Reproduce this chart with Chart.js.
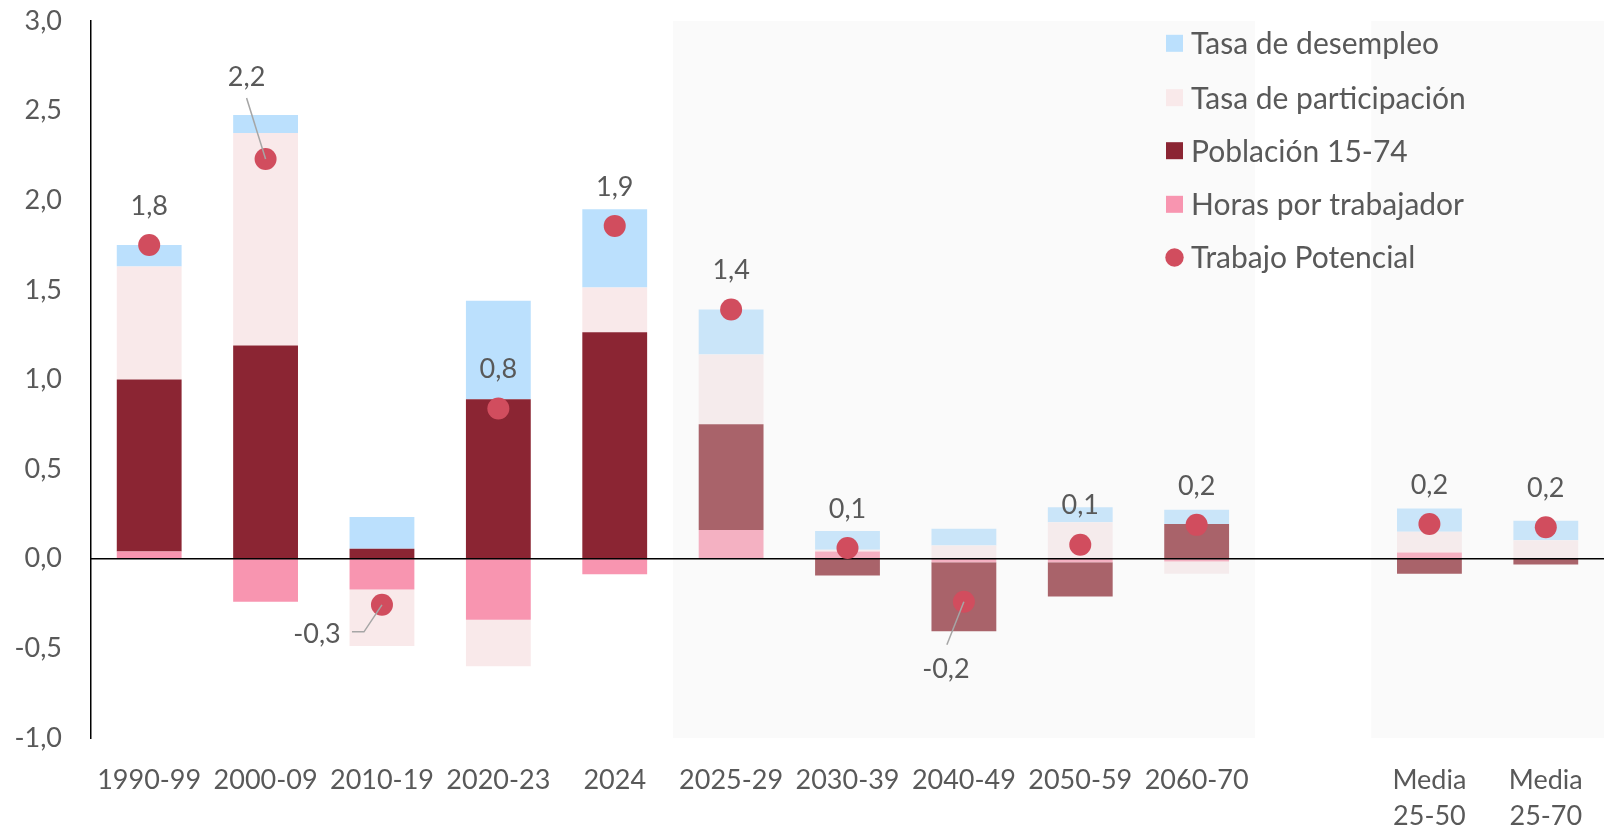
<!DOCTYPE html>
<html><head><meta charset="utf-8">
<script src="https://cdn.jsdelivr.net/npm/chart.js@4.4.0/dist/chart.umd.min.js"></script>
<style>html,body{margin:0;padding:0;background:#fff;} #wrap{width:1604px;height:828px;}</style>
</head><body><div id="wrap"><canvas id="c" width="1604" height="828"></canvas></div>
<script>
// ---------- DATA ----------
const categories = [['1990-99'],['2000-09'],['2010-19'],['2020-23'],['2024'],['2025-29'],['2030-39'],['2040-49'],['2050-59'],['2060-70'],[''],['Media','25-50'],['Media','25-70']];
const seriesNames = ['Tasa de desempleo','Tasa de participación','Población 15-74','Horas por trabajador','Trabajo Potencial'];
const tasaDesempleo     = [0.12, 0.10, 0.177, 0.55, 0.437, 0.25, 0.105, 0.093, 0.083, 0.08, null, 0.13, 0.109];
const tasaParticipacion = [0.63, 1.185, -0.315, -0.26, 0.25, 0.39, 0.01, 0.074, 0.204, -0.068, null, 0.115, 0.10];
const poblacion         = [0.96, 1.19, 0.056, 0.89, 1.263, 0.59, -0.093, -0.385, -0.19, 0.194, null, -0.083, -0.032];
const horasTrabajador   = [0.04, -0.24, -0.172, -0.34, -0.087, 0.16, 0.04, -0.019, -0.02, -0.015, null, 0.035, 0.003];
const trabajoPotencial  = [1.75, 2.23, -0.257, 0.838, 1.857, 1.39, 0.06, -0.24, 0.078, 0.189, null, 0.194, 0.176];
const yTicks = [-1.0, -0.5, 0.0, 0.5, 1.0, 1.5, 2.0, 2.5, 3.0];

// ---------- STYLE ----------
const FONT = 'Lato, "Open Sans", sans-serif';
const TEXT = '#595959';
const shadedCats = [5,6,7,8,9,11,12];
const shadeBlocks = [[5,9],[11,12]];
const COL = {
  desempleo:    ['#BBE0FD', '#CAE5F9'],
  participacion:['#F9E9EA', '#F5EBEC'],
  poblacion:    ['#8B2533', '#A9636A'],
  horas:        ['#F895B0', '#F4B1C2'],
  potencial:    '#D14D5E'
};
const labelStyle = { // per-category label placement relative to dot
  default: {dx:0, dy:-40},
  1: {dx:-19, dy:-83, leader:[[0,0],[-19,-61]]},
  2: {dx:-65, dy:28, leader:[[0,0],[-18,27],[-30,27]]},
  7: {dx:-18, dy:67, leader:[[0,0],[-17,43]]}
};
const pick = pair => ctx => shadedCats.includes(ctx.dataIndex) ? pair[1] : pair[0];
const fmt = v => (Math.round(v*10)/10).toFixed(1).replace('.', ',');

const shadePlugin = {
  id:'shade',
  beforeDatasetsDraw(chart){
    const {ctx, chartArea, scales:{x}} = chart;
    const w = x.getPixelForValue(1) - x.getPixelForValue(0);
    ctx.save(); ctx.fillStyle = '#FAFAFA';
    shadeBlocks.forEach(([a,b])=>{
      const l = x.getPixelForValue(a) - w/2, r = x.getPixelForValue(b) + w/2;
      ctx.fillRect(l, chartArea.top, r-l, chartArea.bottom-chartArea.top);
    });
    ctx.restore();
  }
};
const zeroPlugin = {
  id:'zero',
  afterDatasetDraw(chart, args){
    if (args.index !== 1) return;
    const {ctx, chartArea, scales:{y}} = chart;
    const py = y.getPixelForValue(0);
    ctx.save(); ctx.strokeStyle = '#000'; ctx.lineWidth = 1.5;
    ctx.beginPath(); ctx.moveTo(chartArea.left, py); ctx.lineTo(chart.width, py); ctx.stroke();
    ctx.restore();
  }
};
const labelPlugin = {
  id:'dotlabels',
  afterDatasetsDraw(chart){
    const {ctx} = chart;
    const meta = chart.getDatasetMeta(0);
    ctx.save();
    meta.data.forEach((pt, i)=>{
      const v = trabajoPotencial[i];
      if (v === null || v === undefined) return;
      const st = labelStyle[i] || labelStyle.default;
      if (st.leader){
        ctx.strokeStyle = '#A6A6A6'; ctx.lineWidth = 1.5;
        ctx.beginPath();
        st.leader.forEach(([dx,dy],k)=>{ k ? ctx.lineTo(pt.x+dx, pt.y+dy) : ctx.moveTo(pt.x+dx, pt.y+dy); });
        ctx.stroke();
      }
      ctx.fillStyle = TEXT; ctx.font = '27px ' + FONT;
      ctx.textAlign = 'center'; ctx.textBaseline = 'middle';
      ctx.fillText(fmt(v), pt.x + st.dx, pt.y + st.dy + 1);
    });
    ctx.restore();
  }
};
const legendPlugin = {
  id:'customLegend',
  afterDraw(chart){
    const {ctx} = chart;
    const order = [4,3,2,1,0];
    const x0 = 1166, rows = [43.3, 97.7, 150.7, 204.3, 257.5];
    ctx.save();
    ctx.font = '30px ' + FONT; ctx.textAlign = 'left'; ctx.textBaseline = 'alphabetic';
    order.forEach((di, r)=>{
      const ds = chart.data.datasets[di];
      const cy = rows[r];
      ctx.fillStyle = ds.legendColor;
      if (ds.type === 'line'){
        ctx.beginPath(); ctx.arc(x0+8.5, cy, 9.2, 0, Math.PI*2); ctx.fill();
      } else {
        ctx.fillRect(x0, cy-8.5, 17, 17);
      }
      ctx.fillStyle = TEXT;
      ctx.fillText(ds.label, 1191, cy + 10.8);
    });
    ctx.restore();
  }
};

function build(){
  Chart.defaults.font.family = FONT;
  Chart.defaults.color = TEXT;
  new Chart(document.getElementById('c'), {
    data:{
      labels: categories,
      datasets:[
        {type:'line', label:seriesNames[4], data:trabajoPotencial, stack:'pot', showLine:false,
         pointRadius:11, pointHoverRadius:11, pointBackgroundColor:COL.potencial, pointBorderWidth:0,
         legendColor:COL.potencial},
        {type:'bar', label:seriesNames[3], data:horasTrabajador, stack:'s', backgroundColor:pick(COL.horas), legendColor:COL.horas[0]},
        {type:'bar', label:seriesNames[2], data:poblacion, stack:'s', backgroundColor:pick(COL.poblacion), legendColor:COL.poblacion[0]},
        {type:'bar', label:seriesNames[1], data:tasaParticipacion, stack:'s', backgroundColor:pick(COL.participacion), legendColor:COL.participacion[0]},
        {type:'bar', label:seriesNames[0], data:tasaDesempleo, stack:'s', backgroundColor:pick(COL.desempleo), legendColor:COL.desempleo[0]}
      ]
    },
    options:{
      responsive:false, animation:false, devicePixelRatio:1,
      layout:{autoPadding:false, padding:{top:21, right:-3, left:0, bottom:0}},
      datasets:{bar:{barPercentage:0.557, categoryPercentage:1, borderWidth:0}},
      plugins:{legend:{display:false}, tooltip:{enabled:false}},
      scales:{
        x:{stacked:true, grid:{display:false, drawTicks:false}, border:{display:false},
           ticks:{autoSkip:false, maxRotation:0, padding:24, color:TEXT, font:{size:27, lineHeight:1.333}},
           afterFit(s){ s.height = 90; s.paddingTop = 0; s.paddingLeft = 0; s.paddingRight = 0; }},
        y:{stacked:true, min:-1, max:3, grid:{display:false, drawTicks:false},
           border:{display:true, color:'#000', width:1.5},
           afterBuildTicks(s){ s.ticks = yTicks.map(v=>({value:v})); },
           ticks:{padding:29, color:TEXT, font:{size:27}, callback:v=>fmt(v)},
           afterFit(s){ s.width = 91; s.paddingTop = 0; s.paddingBottom = 0; }}
      }
    },
    plugins:[shadePlugin, zeroPlugin, labelPlugin, legendPlugin]
  });
}
(document.fonts && document.fonts.load ? Promise.all([document.fonts.load('27px Lato'), document.fonts.load('30px Lato')]) : Promise.resolve()).then(build, build);
</script></body></html>
